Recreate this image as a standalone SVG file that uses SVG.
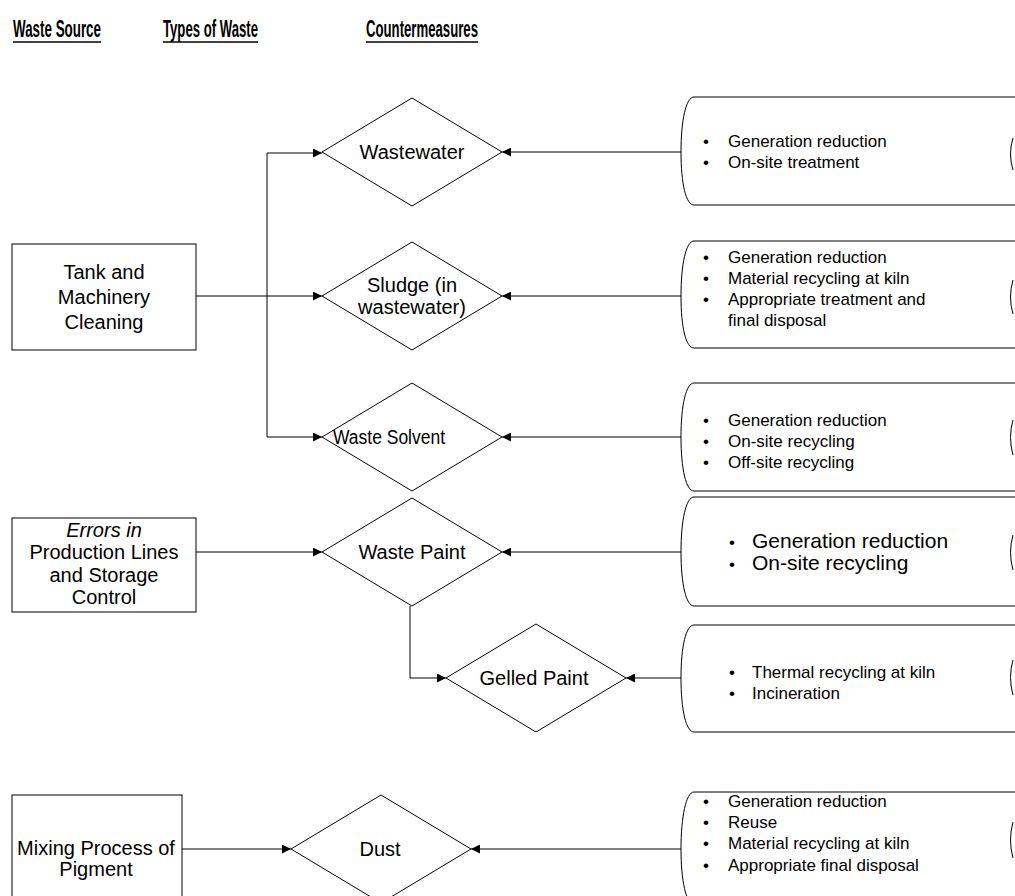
<svg xmlns="http://www.w3.org/2000/svg" width="1015" height="896" viewBox="0 0 1015 896">
<defs>
<marker id="ah" viewBox="0 0 10 10" refX="10" refY="5" markerWidth="10" markerHeight="9" markerUnits="userSpaceOnUse" orient="auto">
<path d="M0,0 L10,5 L0,10 Z" fill="#000"/>
</marker>
</defs>
<style>
.hd{font-family:"Liberation Sans",Arial,sans-serif;font-weight:bold;font-size:24px;fill:#000}
.ul{stroke:#000;stroke-width:1.5}
.bx{fill:#fff;stroke:#000;stroke-width:1}
.t{font-family:"Liberation Sans",Arial,sans-serif;font-size:17px;fill:#000}
.tb{font-family:"Liberation Sans",Arial,sans-serif;font-size:21px;fill:#000}
.tl{font-family:"Liberation Sans",Arial,sans-serif;font-size:20px;fill:#000;text-anchor:middle}
.td{font-family:"Liberation Sans",Arial,sans-serif;font-size:20px;fill:#000;text-anchor:middle}
.cn{fill:none;stroke:#000;stroke-width:1}
.ar{fill:none;stroke:#000;stroke-width:1;marker-end:url(#ah)}
</style>
<rect width="1015" height="896" fill="#fff"/>
<g id="headers">
<text class="hd" x="13" y="37" textLength="88" lengthAdjust="spacingAndGlyphs">Waste Source</text>
<line class="ul" x1="13" y1="42" x2="101" y2="42"/>
<text class="hd" x="163" y="37" textLength="95" lengthAdjust="spacingAndGlyphs">Types of Waste</text>
<line class="ul" x1="163" y1="42" x2="258" y2="42"/>
<text class="hd" x="366" y="37" textLength="112" lengthAdjust="spacingAndGlyphs">Countermeasures</text>
<line class="ul" x1="366" y1="42" x2="478" y2="42"/>
</g>
<g id="connectors">
<line class="ar" x1="196" y1="296" x2="322" y2="296"/>
<line class="cn" x1="267" y1="153" x2="267" y2="437"/>
<line class="ar" x1="267" y1="153" x2="322" y2="153"/>
<line class="ar" x1="267" y1="437" x2="322" y2="437"/>
<line class="ar" x1="681" y1="152" x2="502" y2="152"/>
<line class="ar" x1="681" y1="296" x2="502" y2="296"/>
<line class="ar" x1="681" y1="437" x2="502" y2="437"/>
<line class="ar" x1="196" y1="552" x2="322" y2="552"/>
<line class="ar" x1="681" y1="552" x2="502" y2="552"/>
<path class="ar" d="M410,606 V678 H446"/>
<line class="ar" x1="681" y1="678" x2="626" y2="678"/>
<line class="ar" x1="182" y1="849" x2="291" y2="849"/>
<line class="ar" x1="681" y1="849" x2="471" y2="849"/>
</g>
<g id="src-tank">
<rect class="bx" x="12" y="244" width="184" height="106"/>
<text class="tl" x="104" y="279">Tank and</text>
<text class="tl" x="104" y="304">Machinery</text>
<text class="tl" x="104" y="329">Cleaning</text>
</g>
<g id="src-errors">
<rect class="bx" x="12" y="518" width="184" height="94"/>
<text class="tl" x="104" y="537" font-style="italic">Errors in</text>
<text class="tl" x="104" y="559">Production Lines</text>
<text class="tl" x="104" y="582">and Storage</text>
<text class="tl" x="104" y="604">Control</text>
</g>
<g id="src-mixing">
<rect class="bx" x="12" y="795" width="170" height="110"/>
<text class="tl" x="96" y="855">Mixing Process of</text>
<text class="tl" x="96" y="876">Pigment</text>
</g>
<g id="w-wastewater">
<path class="bx" d="M322,152 L412,98 L502,152 L412,206 Z"/>
<text class="td" x="412" y="159">Wastewater</text>
</g>
<g id="w-sludge">
<path class="bx" d="M322,296 L412,242 L502,296 L412,350 Z"/>
<text class="td" x="412" y="292">Sludge (in</text>
<text class="td" x="412" y="314">wastewater)</text>
</g>
<g id="w-solvent">
<path class="bx" d="M322,437 L412,383 L502,437 L412,491 Z"/>
<text class="td" x="389" y="444" textLength="112" lengthAdjust="spacingAndGlyphs">Waste Solvent</text>
</g>
<g id="w-paint">
<path class="bx" d="M322,552 L412,498 L502,552 L412,606 Z"/>
<text class="td" x="412" y="559">Waste Paint</text>
</g>
<g id="w-gelled">
<path class="bx" d="M446,678 L536,624 L626,678 L536,732 Z"/>
<text class="td" x="534" y="685">Gelled Paint</text>
</g>
<g id="w-dust">
<path class="bx" d="M291,849 L381,795 L471,849 L381,903 Z"/>
<text class="td" x="380" y="856">Dust</text>
</g>
<g id="cm-1">
<path class="cn" d="M1015,97 H694 C686,97 681,120 681,152 C681,184 686,205 694,205 H1015"/>
<path class="cn" d="M1013,138 Q1008,154 1013,170"/>
<text class="t" x="703" y="147">•</text><text class="t" x="728" y="147">Generation reduction</text>
<text class="t" x="703" y="168">•</text><text class="t" x="728" y="168">On-site treatment</text>
</g>
<g id="cm-2">
<path class="cn" d="M1015,241 H694 C686,241 681,264 681,296 C681,328 686,348 694,348 H1015"/>
<path class="cn" d="M1013,280 Q1008,297 1013,314"/>
<text class="t" x="703" y="263">•</text><text class="t" x="728" y="263">Generation reduction</text>
<text class="t" x="703" y="284">•</text><text class="t" x="728" y="284">Material recycling at kiln</text>
<text class="t" x="703" y="305">•</text><text class="t" x="728" y="305">Appropriate treatment and</text>
<text class="t" x="728" y="326">final disposal</text>
</g>
<g id="cm-3">
<path class="cn" d="M1015,383 H694 C686,383 681,405 681,437 C681,469 686,491 694,491 H1015"/>
<path class="cn" d="M1013,420 Q1008,437 1013,455"/>
<text class="t" x="703" y="426">•</text><text class="t" x="728" y="426">Generation reduction</text>
<text class="t" x="703" y="447">•</text><text class="t" x="728" y="447">On-site recycling</text>
<text class="t" x="703" y="468">•</text><text class="t" x="728" y="468">Off-site recycling</text>
</g>
<g id="cm-4">
<path class="cn" d="M1015,497 H694 C686,497 681,520 681,552 C681,584 686,606 694,606 H1015"/>
<path class="cn" d="M1013,535 Q1008,552 1013,570"/>
<text class="t" x="729" y="548">•</text><text class="tb" x="752" y="548">Generation reduction</text>
<text class="t" x="729" y="570">•</text><text class="tb" x="752" y="570">On-site recycling</text>
</g>
<g id="cm-5">
<path class="cn" d="M1015,625 H694 C686,625 681,646 681,678 C681,710 686,732 694,732 H1015"/>
<path class="cn" d="M1013,660 Q1008,677 1013,695"/>
<text class="t" x="729" y="678">•</text><text class="t" x="752" y="678">Thermal recycling at kiln</text>
<text class="t" x="729" y="699">•</text><text class="t" x="752" y="699">Incineration</text>
</g>
<g id="cm-6">
<path class="cn" d="M1015,792 H694 C686,792 681,817 681,849 C681,881 686,904 694,904 H1015"/>
<path class="cn" d="M1013,822 Q1008,840 1013,858"/>
<text class="t" x="703" y="807">•</text><text class="t" x="728" y="807">Generation reduction</text>
<text class="t" x="703" y="828">•</text><text class="t" x="728" y="828">Reuse</text>
<text class="t" x="703" y="849">•</text><text class="t" x="728" y="849">Material recycling at kiln</text>
<text class="t" x="703" y="871">•</text><text class="t" x="728" y="871">Appropriate final disposal</text>
</g>
</svg>
